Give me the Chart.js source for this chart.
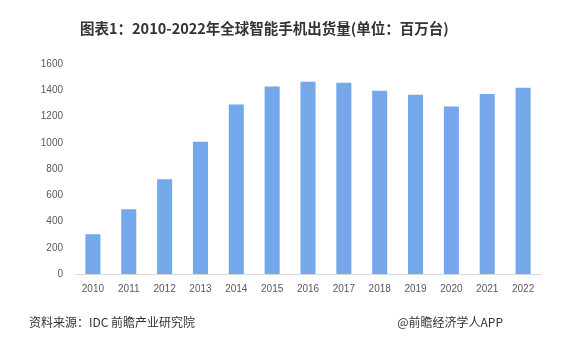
<!DOCTYPE html>
<html>
<head>
<meta charset="utf-8">
<script src="https://cdn.jsdelivr.net/npm/chart.js@4"></script>
<style>
  body { margin: 0; background: #fff; }
  #wrap { position: relative; width: 585px; height: 344px; overflow: hidden; }
  #chart { position: absolute; left: 0; top: 0; }
  .txt { position: absolute; font-family: "Noto Sans CJK SC", "Noto Sans", sans-serif; white-space: nowrap; }
  #title { left: 80px; top: 17px; font-size: 14.5px; font-weight: bold; color: #333; }
  #source { left: 29px; top: 313px; font-size: 12px; color: #333; }
  #brand { right: 82px; top: 313px; font-size: 12px; color: #333; }
</style>
</head>
<body>
<div id="wrap">
  <canvas id="chart" width="585" height="344"></canvas>
  <div class="txt" id="title">图表1：2010-2022年全球智能手机出货量(单位：百万台)</div>
  <div class="txt" id="source">资料来源：IDC 前瞻产业研究院</div>
  <div class="txt" id="brand">@前瞻经济学人APP</div>
</div>
<script>
// years and shipments (millions of units)
const years = ['2010', '2011', '2012', '2013', '2014', '2015', '2016', '2017', '2018', '2019', '2020', '2021', '2022'];
const shipments = [303, 494, 722, 1008, 1291, 1428, 1465, 1458, 1396, 1366, 1276, 1372, 1420];
const yTicks = [0, 200, 400, 600, 800, 1000, 1200, 1400, 1600];

const ctx = document.getElementById('chart').getContext('2d');
new Chart(ctx, {
    type: 'bar',
    data: {
        labels: years,
        datasets: [{
            label: '出货量',
            data: shipments,
            backgroundColor: '#75a7eb',
            categoryPercentage: 0.84,
            barPercentage: 0.5
        }]
    },
    options: {
        responsive: false,
        animation: false,
        layout: { padding: { left: 30, top: 64, right: 44, bottom: 40 } },
        plugins: {
            legend: { display: false },
            tooltip: { enabled: false }
        },
        scales: {
            x: {
                grid: { display: false, drawTicks: false },
                border: { color: '#d9d9d9', width: 1 },
                ticks: {
                    color: '#595959',
                    font: { family: 'Liberation Sans', size: 10 },
                    padding: 9,
                    maxRotation: 0
                },
                afterFit: function (scale) { scale.height = 30; }
            },
            y: {
                min: 0,
                max: 1600,
                grid: { display: false, drawTicks: false },
                border: { display: false },
                afterBuildTicks: function (scale) {
                    scale.ticks = yTicks.map(v => ({ value: v }));
                },
                ticks: {
                    color: '#595959',
                    font: { family: 'Liberation Sans', size: 10 },
                    padding: 12,
                    callback: v => String(v)
                },
                afterFit: function (scale) { scale.width = 45; }
            }
        }
    }
});
</script>
</body>
</html>
